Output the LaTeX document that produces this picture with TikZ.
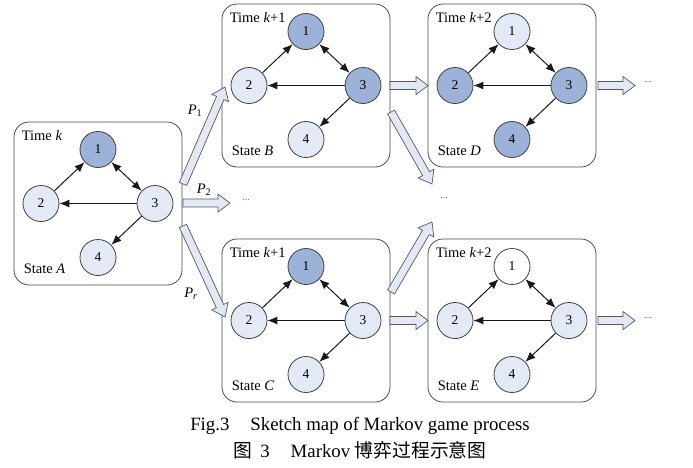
\documentclass[tikz,border=0pt]{standalone}
\usepackage{fontspec}
\setmainfont{Liberation Serif}
\newfontfamily\cjk{Noto Sans CJK SC}
\usetikzlibrary{calc,arrows.meta}
\definecolor{vdark}{RGB}{157,178,217}
\definecolor{vlight}{RGB}{227,234,245}
\definecolor{afill}{RGB}{226,233,244}
\tikzset{
  statebox/.style={draw=black!70, line width=0.8pt, rounded corners=15pt, minimum width=168pt, minimum height=163pt, inner sep=0pt},
  vert/.style={circle, draw=black!75, line width=0.8pt, minimum size=36pt, inner sep=0pt, font=\fontsize{13.5}{13.5}\selectfont},
  edge/.style={draw=black!90, line width=1pt, -{Latex[length=10pt,width=8pt]}},
  bedge/.style={draw=black!90, line width=1pt, {Latex[length=10pt,width=8pt]}-{Latex[length=10pt,width=8pt]}},
  lbl/.style={inner sep=0pt, font=\fontsize{14.5}{14.5}\selectfont},
  blk/.style={draw=black!65, fill=afill, line width=0.7pt, line join=miter},
  dotlbl/.style={inner sep=0pt, text=black!60, font=\fontsize{10}{10}\selectfont},
  plbl/.style={inner sep=0pt, font=\fontsize{14.5}{14.5}\selectfont},
  captext/.style={inner sep=0pt, anchor=base, font=\fontsize{18.8}{18.8}\selectfont}
}
\newcommand{\mkstate}[8]{%
  \node[statebox] (#1) at #2 {};
  \node[vert, fill=#3] (#1-1) at ($(#1.center)+(0,-54)$) {1};
  \node[vert, fill=#4] (#1-2) at ($(#1.center)+(-57,0)$) {2};
  \node[vert, fill=#5] (#1-3) at ($(#1.center)+(57,0)$) {3};
  \node[vert, fill=#6] (#1-4) at ($(#1.center)+(0,54)$) {4};
  \draw[edge] (#1-2) -- (#1-1);
  \draw[bedge] (#1-1) -- (#1-3);
  \draw[edge] (#1-3) -- (#1-2);
  \draw[edge] (#1-3) -- (#1-4);
  \node[lbl, anchor=base west] (#1-t) at ($(#1.north west)+(8,19)$) {Time \textit{k}#7};
  \node[lbl, anchor=base west] (#1-s) at ($(#1.north west)+(10,152)$) {State \textit{#8}};
}
\newcommand{\blkarrow}[2]{%
  \coordinate (ba-h) at ($(#2)!12pt!(#1)$);
  \draw[blk] ($(#1)!4pt!90:(#2)$) -- ($(ba-h)!4pt!90:(#2)$) -- ($(ba-h)!9pt!90:(#2)$) -- (#2)
    -- ($(ba-h)!9pt!-90:(#2)$) -- ($(ba-h)!4pt!-90:(#2)$) -- ($(#1)!4pt!-90:(#2)$) -- cycle;
}
\begin{document}
\begin{tikzpicture}[x=1pt,y=-1pt]
\useasboundingbox (0,0) rectangle (693,467);
\fill[white] (0,0) rectangle (693,467);

\mkstate{A}{(98,203.5)}{vdark}{vlight}{vlight}{vlight}{}{A}
\mkstate{B}{(306,85.5)}{vdark}{vlight}{vdark}{vlight}{+1}{B}
\mkstate{D}{(512,85.5)}{vlight}{vdark}{vdark}{vdark}{+2}{D}
\mkstate{C}{(306,320.5)}{vdark}{vlight}{vlight}{vlight}{+1}{C}
\mkstate{E}{(512,320.5)}{white}{vlight}{vlight}{vlight}{+2}{E}

% arrow end points
\coordinate (p1s) at (183,184);  \coordinate (p1e) at (225,87);
\coordinate (p2s) at (183,203);  \coordinate (p2e) at (230,203);
\coordinate (prs) at (183,226);  \coordinate (pre) at (225,317);
\coordinate (bds) at (391,112);  \coordinate (bde) at (432,184);
\coordinate (ces) at (391,292);  \coordinate (cee) at (432,222);
\coordinate (bhs) at (390,85.5); \coordinate (bhe) at (428,85.5);
\coordinate (chs) at (390,320.5); \coordinate (che) at (428,320.5);
\coordinate (dhs) at (598,85.5); \coordinate (dhe) at (635,85.5);
\coordinate (ehs) at (598,320.5); \coordinate (ehe) at (635,320.5);

\blkarrow{p1s}{p1e}
\blkarrow{p2s}{p2e}
\blkarrow{prs}{pre}
\blkarrow{bds}{bde}
\blkarrow{ces}{cee}
\blkarrow{bhs}{bhe}
\blkarrow{chs}{che}
\blkarrow{dhs}{dhe}
\blkarrow{ehs}{ehe}

\node[dotlbl] (d1) at (246,200) {...};
\node[dotlbl] (d2) at (444,198) {...};
\node[dotlbl] (d3) at (648,82) {...};
\node[dotlbl] (d4) at (648,318) {...};

\node[plbl] (lp1) at (195,111) {\textit{P}\textsubscript{1}};
\node[plbl] (lp2) at (204,190) {\textit{P}\textsubscript{2}};
\node[plbl] (lpr) at (191,294) {\textit{P}\textsubscript{\textit{r}}};

\node[captext] (cap1) at (360,430) {Fig.3\hspace{21pt}Sketch map of Markov game process};
\node[captext] (cap2) at (360,457) {{\cjk 图}\hspace{8pt}3\hspace{21pt}Markov {\cjk 博弈过程示意图}};
\end{tikzpicture}
\end{document}
